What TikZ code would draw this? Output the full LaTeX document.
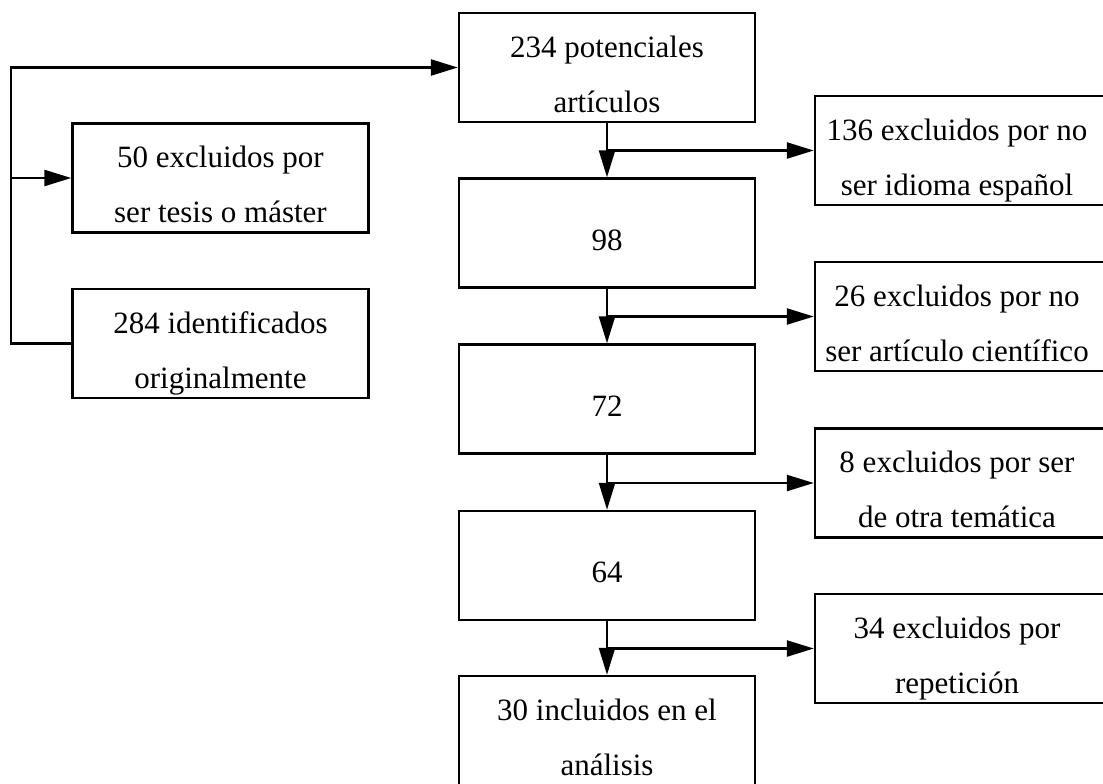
\documentclass[tikz,border=0pt]{standalone}
\usepackage{fontspec}
\setmainfont{Liberation Serif}
\usetikzlibrary{arrows.meta}

\begin{document}
\begin{tikzpicture}[x=0.5pt,y=-0.5pt,
    caja/.style={draw=black, line width=1.2pt, minimum width=148pt, minimum height=54.5pt, inner sep=0pt},
    texto/.style={align=center, inner sep=0pt, font=\fontsize{15.5}{27.5}\selectfont, yshift=-3pt},
    flecha/.style={line width=1.2pt, -{Triangle[length=13.5pt,width=8pt]}}]

    % Page frame (right boxes run off the edge)
    \useasboundingbox (0,0) rectangle (1103,783);
    \fill[white] (0,0) rectangle (1103,783);
    \clip (0,0) rectangle (1103,783);

    % Main column
    \node[caja] (c234) at (607,67.5) {};
    \node[caja] (c98) at (607,233) {};
    \node[caja] (c72) at (607,399) {};
    \node[caja] (c64) at (607,565.5) {};
    \node[caja] (c30) at (607,730.5) {};
    \node[texto] (t234) at (c234) {\strut 234 potenciales\\\strut artículos};
    \node[texto] (t98) at (c98) {\strut 98};
    \node[texto] (t72) at (c72) {\strut 72};
    \node[texto] (t64) at (c64) {\strut 64};
    \node[texto] (t30) at (c30) {\strut 30 incluidos en el\\\strut análisis};

    % Exclusions on the right
    \foreach \y/\nom/\txt in {150.5/r136/{136 excluidos por no\\\strut ser idioma español},
                              316.5/r26/{26 excluidos por no\\\strut ser artículo científico},
                              483/r8/{8 excluidos por ser\\\strut de otra temática},
                              648.5/r34/{34 excluidos por\\\strut repetición}} {
        \node[caja] (\nom) at (963,\y) {};
        \node[texto] (t\nom) at (957,\y) {\strut\txt};
    }

    % Left side
    \node[caja] (n50) at (220.5,178) {};
    \node[caja] (n284) at (220.5,343.5) {};
    \node[texto] (t50) at (n50) {\strut 50 excluidos por\\\strut ser tesis o máster};
    \node[texto] (t284) at (n284) {\strut 284 identificados\\\strut originalmente};

    % Connectors
    \foreach \a/\b/\r in {c234/c98/r136, c98/c72/r26, c72/c64/r8, c64/c30/r34} {
        \draw[flecha] (\a.south) -- (\b.north);
        \draw[flecha] (\a.south |- \r.west) -- (\r.west);
    }
    \coordinate (izq) at (11,343.5);
    \draw[flecha] (n284.west) -- (izq) |- (c234.west);
    \draw[flecha] (izq |- n50.west) -- (n50.west);
\end{tikzpicture}
\end{document}
